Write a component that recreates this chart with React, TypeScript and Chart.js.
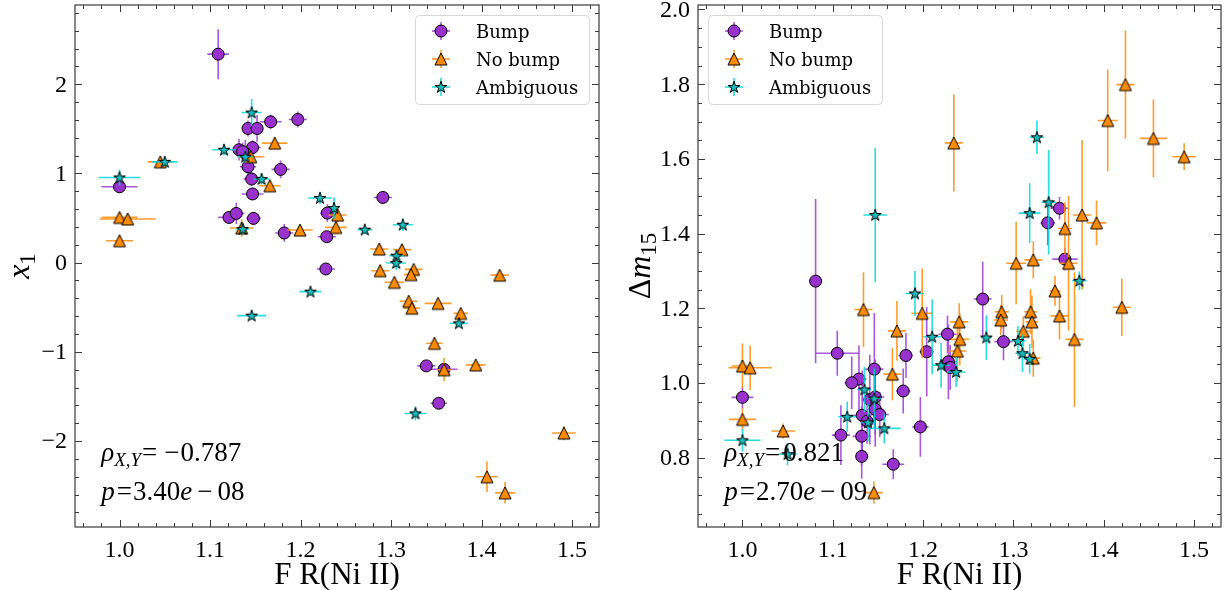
import React, { useEffect, useRef } from 'react';
import { Chart, registerables } from 'chart.js';
Chart.register(...registerables);

// ---------------- axis ranges & ticks ----------------
const X_MIN = 0.9508, X_MAX = 1.5298;
const LEFT_Y_MIN = -2.963, LEFT_Y_MAX = 2.888;
const RIGHT_Y_MIN = 0.615, RIGHT_Y_MAX = 2.012;
const xTicks = [1.0, 1.1, 1.2, 1.3, 1.4, 1.5];
const xTickLabels = ['1.0', '1.1', '1.2', '1.3', '1.4', '1.5'];
const leftYTicks = [-2, -1, 0, 1, 2];
const leftYTickLabels = ['\u22122', '\u22121', '0', '1', '2'];
const rightYTicks = [0.8, 1.0, 1.2, 1.4, 1.6, 1.8, 2.0];
const rightYTickLabels = ['0.8', '1.0', '1.2', '1.4', '1.6', '1.8', '2.0'];
const seriesNames = ['Bump', 'No bump', 'Ambiguous'];

// ---------------- left panel: x1 vs FR(Ni II) ----------------
const lBumpX = [1.000, 1.109, 1.167, 1.197, 1.142, 1.152, 1.132, 1.147, 1.139, 1.136, 1.142, 1.178, 1.146, 1.147, 1.291, 1.121, 1.129, 1.148, 1.2296, 1.182, 1.229, 1.228, 1.339, 1.3586, 1.3527];
const lBumpY = [0.85, 2.337, 1.579, 1.605, 1.504, 1.504, 1.265, 1.29, 1.224, 1.245, 1.075, 1.045, 0.937, 0.77, 0.731, 0.507, 0.552, 0.496, 0.556, 0.333, 0.291, -0.071, -1.157, -1.195, -1.576];
const lBumpXErr = [0.020, 0.012, 0.012, 0.010, 0.007, 0.007, 0.008, 0.009, 0.010, 0.010, 0.009, 0.010, 0.009, 0.012, 0.010, 0.012, 0.009, 0.008, 0.008, 0.010, 0.010, 0.010, 0.010, 0.015, 0.009];
const lBumpYErr = [0.04, 0.28, 0.08, 0.09, 0.09, 0.15, 0.12, 0.08, 0.15, 0.10, 0.10, 0.10, 0.08, 0.06, 0.04, 0.05, 0.12, 0.07, 0.10, 0.10, 0.06, 0.04, 0.04, 0.04, 0.03];

const lNoX = [1.000, 1.009, 1.000, 1.045, 1.1715, 1.145, 1.166, 1.135, 1.241, 1.239, 1.1994, 1.287, 1.312, 1.288, 1.325, 1.322, 1.3037, 1.3195, 1.323, 1.352, 1.377, 1.348, 1.420, 1.3586, 1.3936, 1.491, 1.406, 1.426];
const lNoY = [0.507, 0.49, 0.246, 1.13, 1.34, 1.187, 0.862, 0.389, 0.534, 0.395, 0.366, 0.153, 0.146, -0.09, -0.075, -0.134, -0.22, -0.433, -0.51, -0.456, -0.568, -0.904, -0.14, -1.20, -1.146, -1.91, -2.40, -2.58];
const lNoXErr = [0.020, 0.031, 0.015, 0.014, 0.014, 0.015, 0.012, 0.013, 0.010, 0.012, 0.014, 0.010, 0.010, 0.010, 0.010, 0.008, 0.011, 0.010, 0.009, 0.015, 0.008, 0.009, 0.010, 0.008, 0.011, 0.013, 0.012, 0.011];
const lNoYErr = [0.05, 0.05, 0.04, 0.05, 0.07, 0.06, 0.07, 0.10, 0.08, 0.08, 0.06, 0.06, 0.06, 0.07, 0.04, 0.04, 0.06, 0.07, 0.04, 0.03, 0.05, 0.07, 0.05, 0.13, 0.04, 0.08, 0.17, 0.12];

const lAmbX = [1.000, 1.050, 1.146, 1.1155, 1.139, 1.157, 1.2215, 1.136, 1.237, 1.271, 1.313, 1.306, 1.3057, 1.211, 1.375, 1.146, 1.327];
const lAmbY = [0.955, 1.13, 1.683, 1.265, 1.187, 0.937, 0.724, 0.377, 0.612, 0.37, 0.425, 0.078, -0.004, -0.325, -0.68, -0.594, -1.69];
const lAmbXErr = [0.023, 0.014, 0.011, 0.013, 0.008, 0.009, 0.013, 0.007, 0.005, 0.008, 0.011, 0.008, 0.011, 0.012, 0.010, 0.016, 0.012];
const lAmbYErr = [0.09, 0.05, 0.15, 0.06, 0.07, 0.06, 0.07, 0.05, 0.12, 0.05, 0.07, 0.05, 0.08, 0.04, 0.04, 0.05, 0.08];

// ---------------- right panel: Delta m15 vs FR(Ni II) ----------------
const rBumpX = [1.000, 1.081, 1.105, 1.266, 1.181, 1.204, 1.227, 1.228, 1.230, 1.146, 1.129, 1.121, 1.178, 1.141, 1.147, 1.147, 1.152, 1.1326, 1.138, 1.109, 1.132, 1.197, 1.132, 1.167, 1.351, 1.338, 1.357, 1.289];
const rBumpY = [0.962, 1.273, 1.08, 1.225, 1.074, 1.084, 1.131, 1.057, 1.042, 1.0375, 1.011, 1.001, 0.979, 0.956, 0.963, 0.93, 0.916, 0.914, 0.898, 0.861, 0.858, 0.883, 0.804, 0.783, 1.468, 1.429, 1.332, 1.111];
const rBumpXErr = [0.012, 0.005, 0.024, 0.010, 0.008, 0.008, 0.010, 0.010, 0.008, 0.010, 0.008, 0.008, 0.008, 0.009, 0.010, 0.008, 0.010, 0.010, 0.008, 0.010, 0.010, 0.009, 0.006, 0.012, 0.010, 0.008, 0.014, 0.010];
const rBumpYErr = [0.03, 0.22, 0.06, 0.10, 0.06, 0.12, 0.05, 0.10, 0.06, 0.15, 0.09, 0.07, 0.06, 0.12, 0.10, 0.10, 0.06, 0.12, 0.06, 0.08, 0.08, 0.08, 0.06, 0.04, 0.03, 0.06, 0.03, 0.05];

const rNoX = [1.000, 1.0085, 1.000, 1.045, 1.134, 1.199, 1.171, 1.240, 1.2406, 1.238, 1.166, 1.1455, 1.424, 1.4044, 1.455, 1.489, 1.234, 1.357, 1.376, 1.392, 1.303, 1.322, 1.361, 1.346, 1.420, 1.351, 1.287, 1.286, 1.319, 1.3205, 1.311, 1.3676, 1.322];
const rNoY = [1.046, 1.041, 0.903, 0.872, 1.197, 1.187, 1.14, 1.164, 1.117, 1.086, 1.024, 0.707, 1.799, 1.703, 1.655, 1.606, 1.643, 1.414, 1.45, 1.429, 1.321, 1.33, 1.321, 1.247, 1.203, 1.18, 1.191, 1.169, 1.191, 1.164, 1.139, 1.117, 1.067];
const rNoXErr = [0.012, 0.024, 0.015, 0.013, 0.010, 0.012, 0.010, 0.010, 0.010, 0.010, 0.010, 0.010, 0.010, 0.011, 0.015, 0.013, 0.010, 0.008, 0.010, 0.011, 0.011, 0.010, 0.010, 0.006, 0.010, 0.010, 0.008, 0.008, 0.007, 0.007, 0.008, 0.010, 0.008];
const rNoYErr = [0.06, 0.06, 0.03, 0.02, 0.10, 0.12, 0.08, 0.05, 0.07, 0.08, 0.07, 0.03, 0.145, 0.136, 0.104, 0.036, 0.13, 0.07, 0.20, 0.06, 0.11, 0.05, 0.18, 0.04, 0.077, 0.063, 0.045, 0.04, 0.06, 0.07, 0.04, 0.18, 0.05];

const rAmbX = [1.000, 1.050, 1.191, 1.210, 1.220, 1.2365, 1.270, 1.135, 1.146, 1.139, 1.116, 1.157, 1.326, 1.339, 1.318, 1.373, 1.305, 1.147, 1.310, 1.318];
const rAmbY = [0.847, 0.81, 1.24, 1.124, 1.048, 1.03, 1.122, 0.983, 0.959, 0.895, 0.91, 0.879, 1.658, 1.484, 1.455, 1.274, 1.113, 1.45, 1.08, 1.065];
const rAmbXErr = [0.020, 0.010, 0.010, 0.010, 0.010, 0.010, 0.006, 0.008, 0.008, 0.008, 0.010, 0.018, 0.008, 0.008, 0.012, 0.008, 0.008, 0.013, 0.008, 0.006];
const rAmbYErr = [0.03, 0.03, 0.06, 0.10, 0.06, 0.04, 0.06, 0.06, 0.08, 0.05, 0.04, 0.04, 0.045, 0.14, 0.08, 0.025, 0.04, 0.18, 0.05, 0.04];

// ---------------- styles ----------------
const BUMP_FILL = '#9932CC';
const BUMP_ERR = 'rgba(160,70,215,0.9)';
const NO_FILL = '#FF8C00';
const NO_ERR = 'rgba(255,145,20,0.9)';
const AMB_FILL = '#17bcbc';
const AMB_ERR = 'rgba(0,215,220,0.85)';
const FRAME = '#3a3a3a';
const TICK_FONT = '24px "Liberation Serif"';
const MATH_FONT = '"Liberation Serif"';
const LEGEND_FONT = '18px "DejaVu Serif"';

function makeTriangle(): HTMLCanvasElement {
  const c = document.createElement('canvas');
  c.width = 16; c.height = 16;
  const g = c.getContext('2d')!;
  const cx = 8, cy = 8, R = 6;
  g.beginPath();
  g.moveTo(cx, cy - R);
  g.lineTo(cx - R, cy + R);
  g.lineTo(cx + R, cy + R);
  g.closePath();
  g.fillStyle = NO_FILL; g.fill();
  g.lineWidth = 1; g.strokeStyle = '#000'; g.lineJoin = 'miter'; g.stroke();
  return c;
}

function makeStar(): HTMLCanvasElement {
  const c = document.createElement('canvas');
  c.width = 16; c.height = 16;
  const g = c.getContext('2d')!;
  const cx = 8, cy = 8.4, R = 6.2, r = R * 0.382;
  g.beginPath();
  for (let i = 0; i < 10; i++) {
    const a = -Math.PI / 2 + (i * Math.PI) / 5;
    const rr = i % 2 === 0 ? R : r;
    g.lineTo(cx + rr * Math.cos(a), cy + rr * Math.sin(a));
  }
  g.closePath();
  g.fillStyle = AMB_FILL; g.fill();
  g.lineWidth = 1; g.strokeStyle = '#000'; g.stroke();
  return c;
}

const errorBarPlugin = {
  id: 'errorBars',
  beforeDatasetDraw(chart: any, args: any) {
    const ds = chart.data.datasets[args.index];
    const { ctx, chartArea } = chart;
    const xs = chart.scales.x, ys = chart.scales.y;
    ctx.save();
    ctx.beginPath();
    ctx.rect(chartArea.left, chartArea.top, chartArea.right - chartArea.left, chartArea.bottom - chartArea.top);
    ctx.clip();
    ctx.strokeStyle = ds.errColor;
    ctx.lineWidth = 1.6;
    ds.data.forEach((p: any, i: number) => {
      const px = xs.getPixelForValue(p.x);
      const py = ys.getPixelForValue(p.y);
      ctx.beginPath();
      ctx.moveTo(xs.getPixelForValue(p.x - ds.xErr[i]), py);
      ctx.lineTo(xs.getPixelForValue(p.x + ds.xErr[i]), py);
      ctx.moveTo(px, ys.getPixelForValue(p.y - ds.yErr[i]));
      ctx.lineTo(px, ys.getPixelForValue(p.y + ds.yErr[i]));
      ctx.stroke();
    });
    ctx.restore();
  },
};

type Piece = { t: string; font: string; dy?: number; gap?: number };

function drawPieces(ctx: CanvasRenderingContext2D, x: number, y: number, pieces: Piece[]) {
  let cx = x;
  for (const p of pieces) {
    cx += p.gap || 0;
    ctx.font = p.font;
    ctx.fillText(p.t, cx, y + (p.dy || 0));
    cx += ctx.measureText(p.t).width;
  }
  return cx - x;
}

function measurePieces(ctx: CanvasRenderingContext2D, pieces: Piece[]) {
  let w = 0;
  for (const p of pieces) {
    w += p.gap || 0;
    ctx.font = p.font;
    w += ctx.measureText(p.t).width;
  }
  return w;
}

function makeDecorPlugin(opts: any) {
  return {
    id: 'decor',
    afterDraw(chart: any) {
      const { ctx, chartArea } = chart;
      const xs = chart.scales.x, ys = chart.scales.y;
      const L = chartArea.left, R = chartArea.right, T = chartArea.top, B = chartArea.bottom;
      ctx.save();
      // frame
      ctx.strokeStyle = FRAME;
      ctx.lineWidth = 1.2;
      ctx.strokeRect(L, T, R - L, B - T);
      // ticks
      ctx.lineWidth = 1;
      const tick = (x1: number, y1: number, x2: number, y2: number) => {
        ctx.beginPath(); ctx.moveTo(x1, y1); ctx.lineTo(x2, y2); ctx.stroke();
      };
      const majLen = 7, minLen = 4;
      for (let v = 0.96; v < X_MAX; v += 0.02) {
        const px = Math.round(xs.getPixelForValue(v)) + 0.5;
        const isMaj = xTicks.some((t) => Math.abs(t - v) < 1e-6);
        const len = isMaj ? majLen : minLen;
        tick(px, B, px, B - len);
        tick(px, T, px, T + len);
      }
      for (let k = Math.ceil(opts.yMin / opts.yMinor); k * opts.yMinor <= opts.yMax; k++) {
        const v = k * opts.yMinor;
        const py = Math.round(ys.getPixelForValue(v)) + 0.5;
        const isMaj = opts.yTicks.some((t: number) => Math.abs(t - v) < 1e-6);
        const len = isMaj ? majLen : minLen;
        tick(L, py, L + len, py);
        tick(R, py, R - len, py);
      }
      // tick labels
      ctx.fillStyle = '#000';
      ctx.font = TICK_FONT;
      ctx.textAlign = 'center';
      ctx.textBaseline = 'alphabetic';
      xTicks.forEach((v, i) => ctx.fillText(xTickLabels[i], xs.getPixelForValue(v), B + 30));
      ctx.textAlign = 'right';
      ctx.textBaseline = 'middle';
      opts.yTicks.forEach((v: number, i: number) => ctx.fillText(opts.yTickLabels[i], L - 8, ys.getPixelForValue(v) + 1));
      // x label
      ctx.textAlign = 'center';
      ctx.textBaseline = 'alphabetic';
      ctx.font = `31px ${MATH_FONT}`;
      ctx.fillText('F R(Ni II)', (L + R) / 2, 584);
      // y label (rotated)
      ctx.save();
      ctx.translate(opts.yLabelX, (T + B) / 2);
      ctx.rotate(-Math.PI / 2);
      ctx.textAlign = 'left';
      const ylw = measurePieces(ctx, opts.yLabel);
      drawPieces(ctx, -ylw / 2, 9, opts.yLabel);
      ctx.restore();
      // annotations
      ctx.textAlign = 'left';
      const ax = L + 0.05 * (R - L);
      drawPieces(ctx, ax, 461, opts.rho);
      drawPieces(ctx, ax, 500, opts.pval);
      // legend
      const lx = opts.legendX, ly = 15, lw = 174, lh = 89;
      ctx.beginPath();
      ctx.roundRect(lx + 0.5, ly + 0.5, lw, lh, 4);
      ctx.fillStyle = 'rgba(255,255,255,0.85)';
      ctx.fill();
      ctx.strokeStyle = '#d6d6d6';
      ctx.lineWidth = 1;
      ctx.stroke();
      const rows = [
        { err: BUMP_ERR, kind: 'circle' },
        { err: NO_ERR, kind: 'tri' },
        { err: AMB_ERR, kind: 'star' },
      ];
      rows.forEach((r, i) => {
        const my = ly + 16 + i * 28;
        const mx = lx + 26;
        ctx.strokeStyle = r.err;
        ctx.lineWidth = 1.6;
        tick(mx - 9, my, mx + 9, my);
        tick(mx, my - 9, mx, my + 9);
        if (r.kind === 'circle') {
          ctx.beginPath();
          ctx.arc(mx, my, 6, 0, Math.PI * 2);
          ctx.fillStyle = BUMP_FILL; ctx.fill();
          ctx.strokeStyle = '#000'; ctx.lineWidth = 1; ctx.stroke();
        } else if (r.kind === 'tri') {
          ctx.drawImage(opts.triImg, mx - 8, my - 8);
        } else {
          ctx.drawImage(opts.starImg, mx - 8, my - 8);
        }
        ctx.fillStyle = '#000';
        ctx.font = LEGEND_FONT;
        ctx.textBaseline = 'alphabetic';
        ctx.fillText(seriesNames[i], lx + 61, my + 6.5);
      });
      ctx.restore();
    },
  };
}

function toPts(xs: number[], ys: number[]) {
  return xs.map((x, i) => ({ x, y: ys[i] }));
}

function Panel(props: { side: 'left' | 'right' }) {
  const ref = useRef<HTMLCanvasElement>(null);
  useEffect(() => {
    const canvas = ref.current!;
    const triImg = makeTriangle();
    const starImg = makeStar();
    const isLeft = props.side === 'left';
    const it = `italic 27px ${MATH_FONT}`;
    const up = `27px ${MATH_FONT}`;
    const sub = `italic 19px ${MATH_FONT}`;
    const opts = isLeft
      ? {
          yMin: LEFT_Y_MIN, yMax: LEFT_Y_MAX, yMinor: 0.2, yTicks: leftYTicks, yTickLabels: leftYTickLabels,
          yLabelX: 20, legendX: 415,
          yLabel: [
            { t: 'x', font: `italic 32px ${MATH_FONT}` },
            { t: '1', font: `23px ${MATH_FONT}`, dy: 6 },
          ],
          rho: [
            { t: '\u03C1', font: it },
            { t: 'X,Y', font: sub, dy: 5 },
            { t: '=', font: up, gap: 1 },
            { t: '\u2212', font: up, gap: 7 },
            { t: '0.787', font: up, gap: 1 },
          ],
          pval: [
            { t: 'p', font: it },
            { t: '=', font: up, gap: 2 },
            { t: '3.40', font: up, gap: 1 },
            { t: 'e', font: it },
            { t: '\u2212', font: up, gap: 5 },
            { t: '08', font: up, gap: 5 },
          ],
        }
      : {
          yMin: RIGHT_Y_MIN, yMax: RIGHT_Y_MAX, yMinor: 0.05, yTicks: rightYTicks, yTickLabels: rightYTickLabels,
          yLabelX: 26, legendX: 93,
          yLabel: [
            { t: '\u0394', font: `32px ${MATH_FONT}` },
            { t: 'm', font: `italic 32px ${MATH_FONT}` },
            { t: '15', font: `23px ${MATH_FONT}`, dy: 6 },
          ],
          rho: [
            { t: '\u03C1', font: it },
            { t: 'X,Y', font: sub, dy: 5 },
            { t: '=', font: up, gap: 1 },
            { t: '0.821', font: up, gap: 3 },
          ],
          pval: [
            { t: 'p', font: it },
            { t: '=', font: up, gap: 2 },
            { t: '2.70', font: up, gap: 1 },
            { t: 'e', font: it },
            { t: '\u2212', font: up, gap: 5 },
            { t: '09', font: up, gap: 5 },
          ],
        };
    (opts as any).triImg = triImg;
    (opts as any).starImg = starImg;

    const bx = isLeft ? lBumpX : rBumpX, by = isLeft ? lBumpY : rBumpY;
    const bxe = isLeft ? lBumpXErr : rBumpXErr, bye = isLeft ? lBumpYErr : rBumpYErr;
    const nx = isLeft ? lNoX : rNoX, ny = isLeft ? lNoY : rNoY;
    const nxe = isLeft ? lNoXErr : rNoXErr, nye = isLeft ? lNoYErr : rNoYErr;
    const ax = isLeft ? lAmbX : rAmbX, ay = isLeft ? lAmbY : rAmbY;
    const axe = isLeft ? lAmbXErr : rAmbXErr, aye = isLeft ? lAmbYErr : rAmbYErr;

    const chart = new Chart(canvas, {
      type: 'scatter',
      data: {
        datasets: [
          {
            label: seriesNames[0], data: toPts(bx, by), order: 3,
            pointStyle: 'circle', pointRadius: 6, backgroundColor: BUMP_FILL, borderColor: '#000', borderWidth: 1,
            errColor: BUMP_ERR, xErr: bxe, yErr: bye,
          } as any,
          {
            label: seriesNames[1], data: toPts(nx, ny), order: 2,
            pointStyle: triImg, pointRadius: 6,
            errColor: NO_ERR, xErr: nxe, yErr: nye,
          } as any,
          {
            label: seriesNames[2], data: toPts(ax, ay), order: 1,
            pointStyle: starImg, pointRadius: 6,
            errColor: AMB_ERR, xErr: axe, yErr: aye,
          } as any,
        ],
      },
      options: {
        responsive: false,
        animation: false,
        devicePixelRatio: 1,
        events: [],
        layout: {
          autoPadding: false,
          padding: isLeft ? { left: 75, right: 16, top: 5, bottom: 63 } : { left: 83, right: 9, top: 5, bottom: 63 },
        },
        plugins: { legend: { display: false }, tooltip: { enabled: false } },
        scales: {
          x: { type: 'linear', min: X_MIN, max: X_MAX, display: false },
          y: { type: 'linear', min: opts.yMin, max: opts.yMax, display: false },
        },
      } as any,
      plugins: [errorBarPlugin, makeDecorPlugin(opts)],
    });
    return () => chart.destroy();
  }, [props.side]);
  return (
    <canvas
      ref={ref}
      width={615}
      height={590}
      style={{ position: 'absolute', top: 0, left: props.side === 'left' ? 0 : 615, width: 615, height: 590 }}
    />
  );
}

export default function App() {
  return (
    <div style={{ position: 'absolute', left: 0, top: 0, width: 1230, height: 590, background: '#fff' }}>
      <Panel side="left" />
      <Panel side="right" />
    </div>
  );
}
